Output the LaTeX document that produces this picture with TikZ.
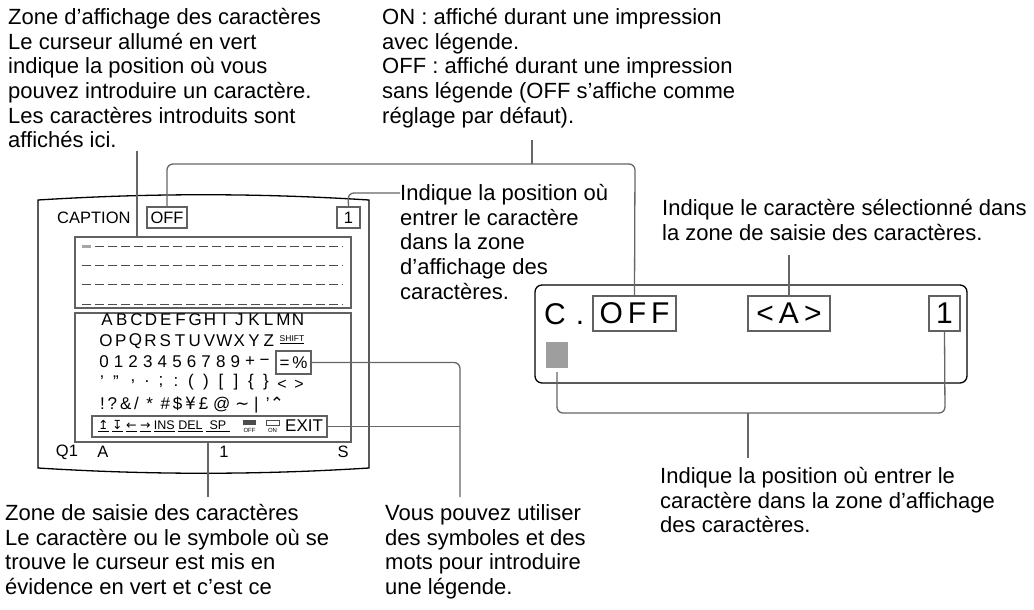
\documentclass[tikz,border=0pt]{standalone}
\usepackage{fontspec}
\setmainfont{Liberation Sans}
\newfontfamily\symf{DejaVu Sans}
\begin{document}
\begin{tikzpicture}[x=1pt,y=-1pt,
  lbl/.style={anchor=north west,inner sep=0pt,align=left,font=\fontsize{22}{24.7}\selectfont},
  gbox/.style={draw=black!62,line width=1.3pt,inner sep=0pt},
  lead/.style={draw=black!60,line width=1.3pt,rounded corners=6pt},
  kb/.style={inner sep=0pt,font=\fontsize{17}{19}\selectfont},
  scr/.style={inner sep=0pt,font=\fontsize{16.5}{18}\selectfont}]
\useasboundingbox (0,0) rectangle (1034,610);
% texts
\node[lbl] (tl) at (8,7) {\strut Zone d’affichage des caractères\\Le curseur allumé en vert\\indique la position où vous\\pouvez introduire un caractère.\\Les caractères introduits sont\\affichés ici.};
\node[lbl] (tm) at (382,7) {\strut ON : affiché durant une impression\\avec légende.\\OFF : affiché durant une impression\\sans légende (OFF s’affiche comme\\réglage par défaut).};
\node[lbl] (mid) at (400,183) {\strut Indique la position où\\entrer le caractère\\dans la zone\\d’affichage des\\caractères.};
\node[lbl] (ru) at (662,198) {\strut Indique le caractère sélectionné dans\\la zone de saisie des caractères.};
\node[lbl] (rl) at (660,466) {\strut Indique la position où entrer le\\caractère dans la zone d’affichage\\des caractères.};
\node[lbl] (bl) at (5,503) {\strut Zone de saisie des caractères\\Le caractère ou le symbole où se\\trouve le curseur est mis en\\évidence en vert et c’est ce};
\node[lbl] (bm) at (385,503) {\strut Vous pouvez utiliser\\des symboles et des\\mots pour introduire\\une légende.};
% screen outline
\draw[line width=1.3pt] (38,200) .. controls (150,193) and (257,193) .. (369,200) -- (369,468) .. controls (257,475) and (150,475) .. (38,468) -- cycle;
\node[scr,anchor=west] (cap) at (57,218) {CAPTION};
\node[gbox,minimum width=40pt,minimum height=21pt] (offL) at (167,217.5) {};
\node[scr] at (offL) {OFF};
\node[gbox,minimum width=23pt,minimum height=21pt] (oneL) at (348.5,217.5) {};
\node[scr] at (oneL) {1};
\node[gbox,minimum width=276pt,minimum height=71pt] (txt) at (213,272.5) {};
\fill[black!35] (82,244.5) rectangle (91,248);
\draw[black!70,line width=0.9pt,dash pattern=on 9pt off 4pt] (95,246.5) -- (343,246.5);
\foreach \yy in {265.5,284.5,304}{\draw[black!70,line width=0.9pt,dash pattern=on 9pt off 4pt] (82,\yy) -- (343,\yy);}
\node[gbox,minimum width=276pt,minimum height=129pt] (kbd) at (213,377.5) {};
% keyboard rows
\foreach \c [count=\i from 0] in {A,B,C,D,E,F,G,H,I,J,K,L,M,N}{\node[kb] at (107+\i*14.7,320) {\c};}
\foreach \c [count=\i from 0] in {O,P,Q,R,S,T,U,V,W,X,Y,Z}{\node[kb] at (106+\i*14.8,341) {\c};}
\node[inner sep=0pt,font=\fontsize{8.5}{9}\selectfont] at (292,340) {\underline{SHIFT}};
\foreach \c [count=\i from 0] in {0,1,2,3,4,5,6,7,8,9,+,−}{\node[kb] at (104+\i*14.6,362) {\c};}
\node[gbox,minimum width=35pt,minimum height=23pt] (pct) at (293.5,362.5) {};
\node[kb] at (pct) {=\,\%};
\foreach \xx/\c in {102/{’},116/{”},133/{,},147/{.},161/{;},176/{:},191/{(},206/{)},221/{[},236/{]},251/{\{},266/{\}}}{\node[kb] at (\xx,382) {\c};}
\node[kb,font=\fontsize{16}{18}\selectfont] at (282,385) {<};
\node[kb,font=\fontsize{16}{18}\selectfont] at (299,385) {>};
\node[kb,anchor=west] at (100,405) {!\,?\,\&\,/\ \,*\ \,\#\,\$\,{\symf ¥}\,£\ @\ {\symf ∼}\ |\ \,’{\symf ⌃}};
\node[gbox,minimum width=235pt,minimum height=21pt] (fn) at (209.5,426.5) {};
\node[inner sep=0pt,anchor=west,font=\fontsize{12.5}{13}\selectfont] at (98,426) {\underline{\symf ↥}\ \underline{\symf ↧}\ \underline{\symf ←}\ \underline{\symf →}\ \underline{INS}\ \underline{DEL}\ \underline{\ SP\ }};
\fill[black!70] (243,420) rectangle (256,425); \node[inner sep=0pt,font=\fontsize{6}{7}\selectfont] at (249.5,430) {OFF};
\draw[black!70,line width=0.8pt] (266,420) rectangle (279,425); \node[inner sep=0pt,font=\fontsize{6}{7}\selectfont] at (272.5,430) {ON};
\node[kb,anchor=west] at (285,426) {EXIT};
\node[scr] at (67,452) {Q1};
\node[scr] at (103,452) {A};
\node[scr] at (224,452) {1};
\node[scr] at (343,452) {S};
% right display
\draw[line width=1.3pt,rounded corners=7pt] (535,285) rectangle (967,383);
\node[inner sep=0pt,anchor=west,font=\fontsize{30}{32}\selectfont] at (544,314) {C\,\,.};
\node[gbox,minimum width=83pt,minimum height=35pt] (offR) at (634.5,313.5) {};
\node[inner sep=0pt,font=\fontsize{30}{32}\selectfont] at (offR) {O\,F\,F};
\node[gbox,minimum width=82pt,minimum height=35pt] (selR) at (789,313.5) {};
\node[inner sep=0pt,font=\fontsize{30}{32}\selectfont] at (selR) {<\,A\,>};
\node[gbox,minimum width=31pt,minimum height=35pt] (oneR) at (944.5,313.5) {};
\node[inner sep=0pt,font=\fontsize{30}{32}\selectfont] at (oneR) {1};
\node[fill=black!38,minimum width=22pt,minimum height=26pt,inner sep=0pt] (cur) at (557,355) {};
% leaders
\coordinate (tlb) at (137,151);
\draw[lead] (tlb) -- (tlb |- txt.north);
\draw[lead] (offL.north) -- (167,164) -- (635,164) -- (offR.north);
\draw[lead] (532,140) -- (532,164);
\draw[lead] (oneL.north) -- (348,193) -- (mid.west |- 0,193);
\draw[lead] (selR.north) -- (789,255);
\draw[lead] (cur.south) ++(0,4) -- (557,413) -- (945,413) -- (oneR.south);
\draw[lead] (748,413) -- (748,458);
\draw[lead] (208,442) -- (208,497);
\draw[lead] (pct.east) -- (460,362.5) -- (460,497);
\draw[lead] (fn.east) -- (460,426.5);
\end{tikzpicture}
\end{document}
